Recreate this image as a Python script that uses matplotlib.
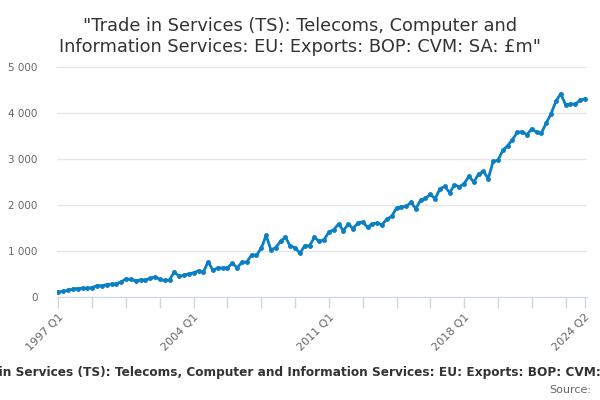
# Trade in Services: Telecoms, Computer and Information Services, EU exports
import pandas as pd
import matplotlib.pyplot as plt

# === data (£m, quarterly 1997 Q1 - 2024 Q2) ===
quarters = [str(p).replace("Q", " Q") for p in pd.period_range("1997Q1", "2024Q2", freq="Q")]
values = [
    110, 125, 147, 176, 183, 191, 191, 205, 249, 242,
    271, 279, 286, 330, 395, 381, 352, 373, 373, 403,
    439, 381, 359, 373, 549, 447, 476, 505, 527, 571,
    542, 768, 578, 637, 629, 637, 732, 637, 754, 761,
    915, 907, 1061, 1338, 1024, 1075, 1214, 1302, 1105, 1075,
    951, 1115, 1115, 1296, 1209, 1246, 1412, 1463, 1586, 1441,
    1586, 1485, 1608, 1630, 1514, 1594, 1608, 1572, 1695, 1753,
    1934, 1963, 1970, 2057, 1920, 2108, 2144, 2231, 2137, 2354,
    2405, 2268, 2434, 2398, 2463, 2623, 2499, 2673, 2731, 2572,
    2949, 2970, 3188, 3289, 3420, 3579, 3594, 3528, 3659, 3579,
    3565, 3782, 3985, 4253, 4420, 4181, 4195, 4195, 4275, 4311,
]
label_quarters = ["1997 Q1", "2004 Q1", "2011 Q1", "2018 Q1", "2024 Q2"]
y_ticks = [0, 1000, 2000, 3000, 4000, 5000]
y_labels = ["0", "1 000", "2 000", "3 000", "4 000", "5 000"]

title = '"Trade in Services (TS): Telecoms, Computer and\nInformation Services: EU: Exports: BOP: CVM: SA: £m"'
caption = '"Trade in Services (TS): Telecoms, Computer and Information Services: EU: Exports: BOP: CVM: SA: £m"'

# === plot ===
fig = plt.figure(figsize=(6, 4), dpi=100)
ax = fig.add_axes([0.095, 0.2575, 0.883, 0.575])

x = list(range(len(quarters)))
ax.plot(x, values, color="#0b7fc4", linewidth=2, marker="o", markersize=2.5)

ax.set_xlim(-0.3, len(quarters) - 0.6)
ax.set_ylim(0, 5000)

ax.set_yticks(y_ticks)
ax.set_yticklabels(y_labels)
ax.grid(axis="y", color="#e6e6e6", linewidth=1)
ax.set_axisbelow(True)

# ticks every 7 quarters, labels on a few
tick_pos = list(range(0, len(quarters), 7)) + [len(quarters) - 1]
ax.set_xticks(tick_pos)
ax.set_xticklabels([quarters[i] if quarters[i] in label_quarters else "" for i in tick_pos],
                   rotation=45, ha="right", rotation_mode="anchor")

for s in ["top", "right", "left"]:
    ax.spines[s].set_visible(False)
ax.spines["bottom"].set_color("#ccd6eb")
ax.tick_params(axis="x", colors="#ccd6eb", length=8, width=1, labelcolor="#666666",
               labelsize=8, pad=3)
ax.tick_params(axis="y", length=0, labelcolor="#666666", labelsize=7.5, pad=14)

fig.text(0.5, 0.957, title, ha="center", va="top", fontsize=12.8, color="#333333",
         linespacing=1.22)
fig.text(0.508, 0.068, caption, ha="center", va="center", fontsize=8.7,
         fontweight="bold", color="#333333")
fig.text(0.985, 0.025, "Source:", ha="right", va="center", fontsize=8, color="#666666")

fig.savefig("out.png", dpi=100)
plt.close(fig)
